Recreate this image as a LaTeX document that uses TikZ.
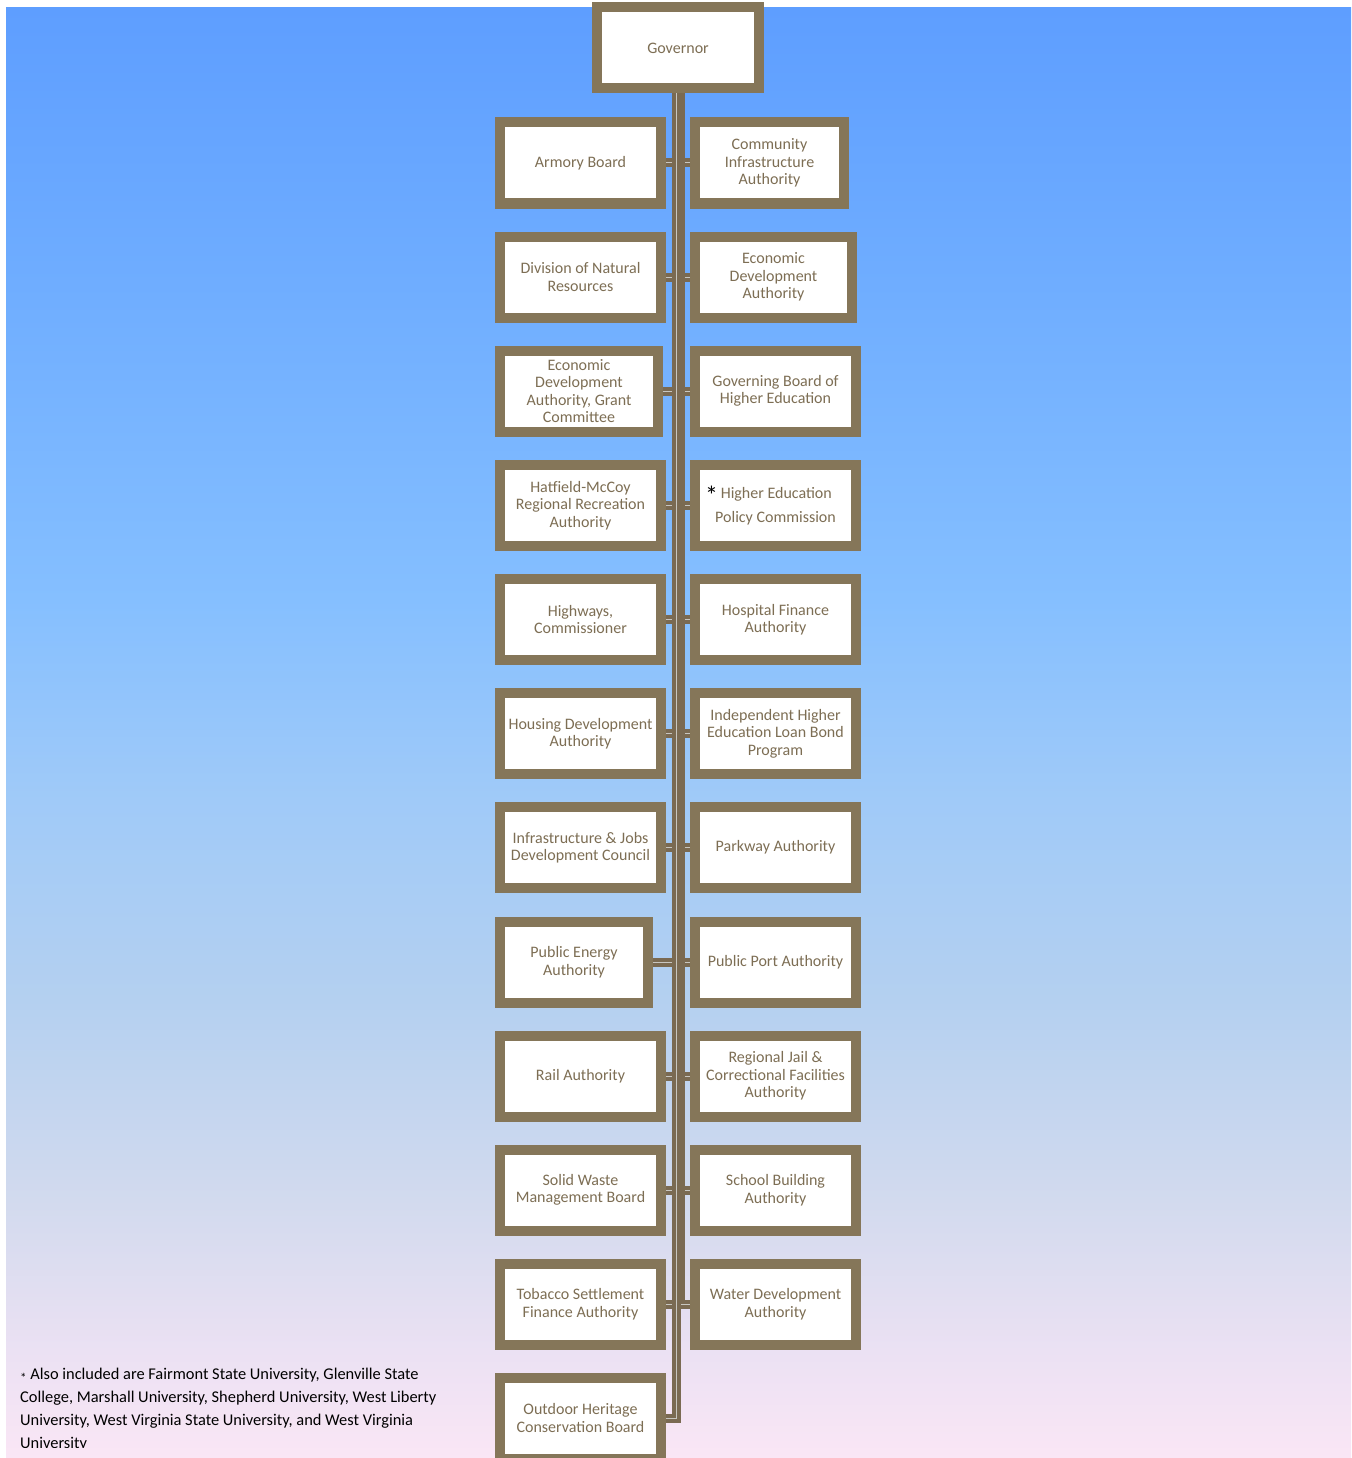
\documentclass[tikz,border=0pt]{standalone}
\usepackage{fontspec}
\setmainfont{Carlito}
\pgfdeclarelayer{bg}
\pgfdeclarelayer{mid}
\pgfsetlayers{bg,mid,main}
\definecolor{framec}{RGB}{133,118,89}
\definecolor{connc}{RGB}{122,106,82}
\definecolor{stripec}{RGB}{200,198,192}
\definecolor{txtc}{RGB}{125,110,84}
\definecolor{s1}{RGB}{94,158,255}
\definecolor{s2}{RGB}{112,174,255}
\definecolor{s3}{RGB}{133,191,255}
\definecolor{s4}{RGB}{160,202,248}
\definecolor{s5}{RGB}{180,208,240}
\definecolor{s6}{RGB}{210,218,238}
\definecolor{s7}{RGB}{235,225,243}
\definecolor{s8}{RGB}{250,230,245}
\pgfdeclareverticalshading{bgshade}{100bp}{color(0bp)=(s8); color(25bp)=(s8); color(28.7bp)=(s7); color(33.9bp)=(s6); color(40.8bp)=(s5); color(47.7bp)=(s4); color(54.6bp)=(s3); color(64.9bp)=(s2); color(75bp)=(s1); color(100bp)=(s1)}
\begin{document}
\begin{tikzpicture}[x=1pt,y=-1pt,
  box/.style={draw=framec, line width=10pt, fill=white, minimum height=81pt,
    inner sep=0pt, align=center, text=txtc, font=\fontsize{16}{17.5}\selectfont},
  link/.style={draw=connc, line width=4pt, double=stripec, double distance=1pt}]
\useasboundingbox (0,0) rectangle (1351,1458);
\clip (0,0) rectangle (1351,1458);
\begin{pgfonlayer}{bg}
\fill[white] (0,0) rectangle (1351,1458);
\shade[shading=bgshade] (6,8) rectangle (1351,1458);
\end{pgfonlayer}

\node[box, minimum width=162pt] (gov) at (678,48) {Governor};

% left column
\node[box, minimum width=161pt] (L1) at (580.5,163) {Armory Board};
\node[box, minimum width=161pt] (L2) at (580.5,277) {Division of Natural\\Resources};
\node[box, minimum width=158pt] (L3) at (579,391) {Economic\\Development\\Authority, Grant\\Committee};
\node[box, minimum width=161pt] (L4) at (580.5,505.5) {Hatfield-McCoy\\Regional Recreation\\Authority};
\node[box, minimum width=161pt] (L5) at (580.5,619.5) {Highways,\\Commissioner};
\node[box, minimum width=161pt] (L6) at (580.5,733.5) {Housing Development\\Authority};
\node[box, minimum width=161pt] (L7) at (580.5,847.5) {Infrastructure \& Jobs\\Development Council};
\node[box, minimum width=148pt] (L8) at (574,962) {Public Energy\\Authority};
\node[box, minimum width=161pt] (L9) at (580.5,1076) {Rail Authority};
\node[box, minimum width=161pt] (L10) at (580.5,1190) {Solid Waste\\Management Board};
\node[box, minimum width=161pt] (L11) at (580.5,1304) {Tobacco Settlement\\Finance Authority};
\node[box, minimum width=161pt] (L12) at (580.5,1418) {Outdoor Heritage\\Conservation Board};

% right column
\node[box, minimum width=149pt] (R1) at (769.5,163) {Community\\Infrastructure\\Authority};
\node[box, minimum width=157pt] (R2) at (773.5,277) {Economic\\Development\\Authority};
\node[box, minimum width=161pt] (R3) at (775.5,391) {Governing Board of\\Higher Education};
\node[box, minimum width=161pt, font=\fontsize{16}{24}\selectfont] (R4) at (775.5,505.5) {\hspace*{-14pt}{\color{black}\fontsize{26}{26}\selectfont\raisebox{-6pt}{*}}\,Higher Education\\Policy Commission};
\node[box, minimum width=161pt] (R5) at (775.5,619.5) {Hospital Finance\\Authority};
\node[box, minimum width=161pt] (R6) at (775.5,733.5) {Independent Higher\\Education Loan Bond\\Program};
\node[box, minimum width=161pt] (R7) at (775.5,847.5) {Parkway Authority};
\node[box, minimum width=161pt] (R8) at (775.5,962) {Public Port Authority};
\node[box, minimum width=161pt] (R9) at (775.5,1076) {Regional Jail \&\\Correctional Facilities\\Authority};
\node[box, minimum width=161pt] (R10) at (775.5,1190) {School Building\\Authority};
\node[box, minimum width=161pt] (R11) at (775.5,1304) {Water Development\\Authority};

\coordinate (tl) at ([xshift=-2pt]gov.south);
\coordinate (tr) at ([xshift=2pt]gov.south);
\begin{pgfonlayer}{mid}
\foreach \i in {1,...,11} {
  \draw[link] (tr) |- (R\i.west);
}
\foreach \i in {1,...,12} {
  \draw[link] (tl) |- (L\i.east);
}
\end{pgfonlayer}

\begin{scope}
\clip (0,0) rectangle (480,1447);
\node[anchor=north west, inner sep=0pt, align=left, text=black,
  font=\fontsize{16.4}{23}\selectfont] (note) at (20,1368)
  {{\fontsize{13}{13}\selectfont\raisebox{-3pt}{*}} Also included are Fairmont State University, Glenville State\\
   College, Marshall University, Shepherd University, West Liberty\\
   University, West Virginia State University, and West Virginia\\
   University};
\end{scope}
\end{tikzpicture}
\end{document}
